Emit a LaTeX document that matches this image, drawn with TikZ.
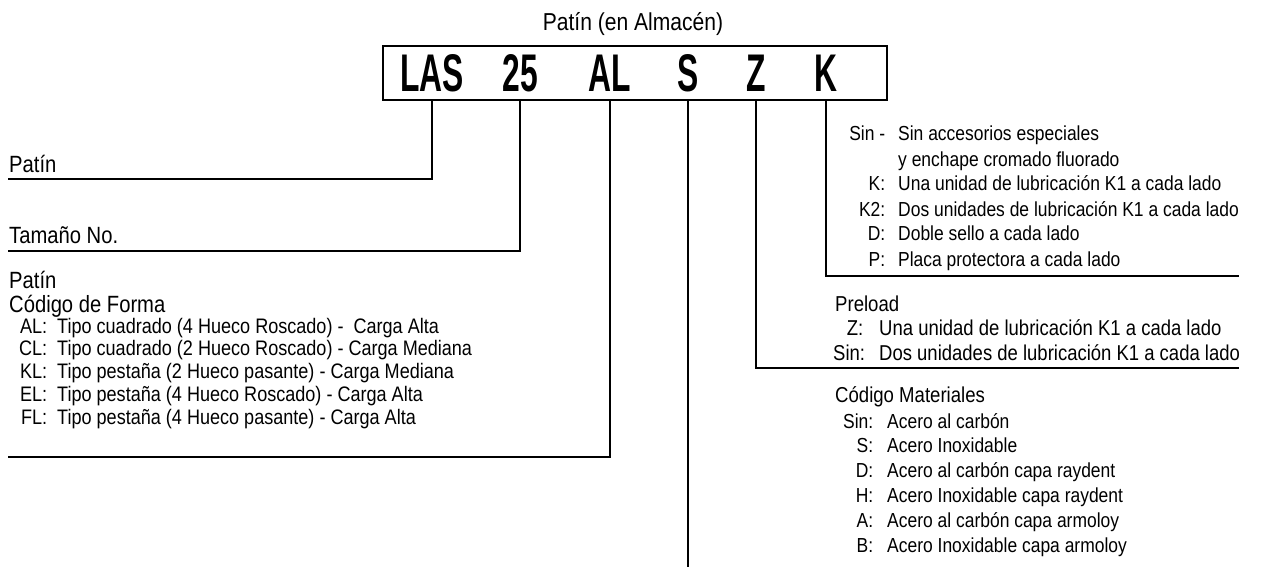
\documentclass[tikz,border=0pt]{standalone}
\usepackage{fontspec}
\setmainfont{Liberation Sans}[FakeStretch=0.86]
\newfontfamily\codefont{Liberation Sans}[FakeStretch=0.6]
\usepackage{array}
\newcolumntype{R}[1]{>{\raggedleft\arraybackslash}p{#1}}

\begin{document}
\begin{tikzpicture}[x=1pt,y=-1pt]
  \tikzset{codebox/.style={draw=black,line width=1.8pt,minimum width=504pt,minimum height=54pt,inner sep=0pt}}
  \tikzset{codeletter/.style={font=\codefont\bfseries\fontsize{53}{53}\selectfont,inner sep=0pt,anchor=base}}
  \tikzset{leader/.style={draw=black,line width=2.2pt}}
  \tikzset{headtext/.style={font=\fontsize{23.5}{23}\selectfont,inner sep=0pt,anchor=base west}}
  \tikzset{sidehead/.style={font=\fontsize{21.6}{23}\selectfont,inner sep=0pt,anchor=base west}}
  \tikzset{listtext/.style={font=\fontsize{20.3}{25}\selectfont,inner sep=0pt,anchor=base west}}
  \useasboundingbox (0,0) rectangle (1271,567);
  \node[headtext,anchor=base,font=\fontsize{24.5}{25}\selectfont] (title) at (633,31) {Patín (en Almacén)};
  \node[codebox] (box) at (635,73) {};
  \node[codeletter] (las) at (432,92) {LAS};
  \node[codeletter] (size) at (520,92) {25};
  \node[codeletter] (form) at (610,92) {AL};
  \node[codeletter] (mat) at (688,92) {S};
  \node[codeletter] (pre) at (756,92) {Z};
  \node[codeletter] (acc) at (826,92) {K};
  \coordinate (lasend) at (8,179);
  \coordinate (sizeend) at (8,251);
  \coordinate (formend) at (8,457);
  \coordinate (matend) at (688,567);
  \coordinate (preend) at (1239,368);
  \coordinate (accend) at (1239,276);
  \draw[leader] (las |- box.south) |- (lasend);
  \draw[leader] (size |- box.south) |- (sizeend);
  \draw[leader] (form |- box.south) |- (formend);
  \draw[leader] (mat |- box.south) -- (matend);
  \draw[leader] (pre |- box.south) |- (preend);
  \draw[leader] (acc |- box.south) |- (accend);
  \node[headtext] (lastext) at (9,172) {Patín};
  \node[headtext] (sizetext) at (9,243) {Tamaño No.};
  \node[headtext] (formhead) at (9,288) {\begin{tabular}[t]{@{}l@{}}Patín\\Código de Forma\end{tabular}};
  \node[listtext,font=\fontsize{21}{22.8}\selectfont] (formlist) at (14,333) {\begin{tabular}[t]{@{}R{33pt}@{\hspace{10pt}}l@{}}
    AL: & Tipo cuadrado (4 Hueco Roscado) - \ Carga Alta\\
    CL: & Tipo cuadrado (2 Hueco Roscado) - Carga Mediana\\
    KL: & Tipo pestaña (2 Hueco pasante) - Carga Mediana\\
    EL: & Tipo pestaña (4 Hueco Roscado) - Carga Alta\\
    FL: & Tipo pestaña (4 Hueco pasante) - Carga Alta
  \end{tabular}};
  \node[listtext] (acclist) at (845,141) {\begin{tabular}[t]{@{}R{40pt}@{\hspace{13pt}}l@{}}
    Sin - & Sin accesorios especiales\\
          & y enchape cromado fluorado\\
    K: & Una unidad de lubricación K1 a cada lado\\
    K2: & Dos unidades de lubricación K1 a cada lado\\
    D: & Doble sello a cada lado\\
    P: & Placa protectora a cada lado
  \end{tabular}};
  \node[sidehead] (prehead) at (835,311) {Preload};
  \node[listtext,font=\fontsize{21.5}{25}\selectfont] (prelist) at (833,335) {\begin{tabular}[t]{@{}R{30pt}@{\hspace{16pt}}l@{}}
    Z: & Una unidad de lubricación K1 a cada lado\\
    Sin: & Dos unidades de lubricación K1 a cada lado
  \end{tabular}};
  \node[sidehead] (mathead) at (835,402) {Código Materiales};
  \node[listtext,font=\fontsize{20.3}{24.8}\selectfont] (matlist) at (839,428) {\begin{tabular}[t]{@{}R{34pt}@{\hspace{14pt}}l@{}}
    Sin: & Acero al carbón\\
    S: & Acero Inoxidable\\
    D: & Acero al carbón capa raydent\\
    H: & Acero Inoxidable capa raydent\\
    A: & Acero al carbón capa armoloy\\
    B: & Acero Inoxidable capa armoloy
  \end{tabular}};
\end{tikzpicture}
\end{document}
